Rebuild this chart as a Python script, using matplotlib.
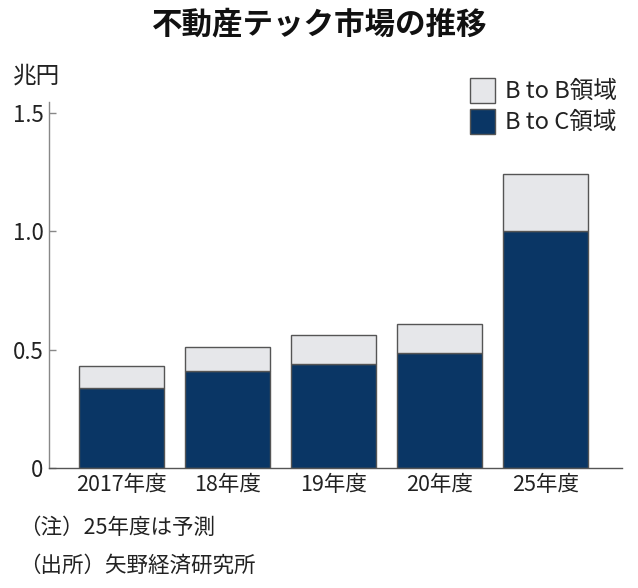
import matplotlib
matplotlib.use("Agg")
import matplotlib.pyplot as plt
from matplotlib.patches import Rectangle

plt.rcParams['font.family'] = ['Noto Sans CJK JP', 'DejaVu Sans']

categories = ["2017年度", "18年度", "19年度", "20年度", "25年度"]
btoc = [0.34, 0.41, 0.44, 0.485, 1.0]
btob = [0.09, 0.10, 0.12, 0.125, 0.24]
yticks = [0, 0.5, 1.0, 1.5]
ytick_labels = ["0", "0.5", "1.0", "1.5"]

navy = "#0a3665"
light = "#e6e7ea"
edge = "#555555"

fig = plt.figure(figsize=(6.38, 5.88), dpi=100)
ax = fig.add_axes([49/638, 1-468/588, (622-49)/638, (468-102)/588])

x = list(range(len(categories)))
ax.bar(x, btoc, width=0.8, color=navy, edgecolor=edge, linewidth=1.0, label="B to C領域", zorder=2)
ax.bar(x, btob, bottom=btoc, width=0.8, color=light, edgecolor=edge, linewidth=1.0, label="B to B領域", zorder=2)

ax.set_xlim(-0.684, 4.72)
ax.set_ylim(0, 1.546)
ax.set_yticks(yticks)
ax.set_yticklabels(ytick_labels, fontsize=16, color="#222222")
ax.set_xticks(x)
ax.set_xticklabels(categories, fontsize=15.5, color="#222222")
ax.tick_params(axis='y', direction='in', length=5, width=1, color="#888888", pad=4)
ax.tick_params(axis='x', length=0, pad=4)
for s in ['top', 'right']:
    ax.spines[s].set_visible(False)
ax.spines['left'].set_color("#888888")
ax.spines['bottom'].set_color("#555555")
ax.spines['left'].set_linewidth(1.0)
ax.spines['bottom'].set_linewidth(1.0)

# legend drawn as figure patches
for i, (lab, col) in enumerate([("B to B領域", light), ("B to C領域", navy)]):
    y0 = 1 - (103 + i*31)/588
    fig.patches.append(Rectangle((470/638, y0), 25/638, 25/588, transform=fig.transFigure,
                                 facecolor=col, edgecolor=edge, linewidth=1.0))
    fig.text(505/638, y0 + 12/588, lab, fontsize=17, va='center', ha='left', color="#222222")

fig.text(320/638, 1-24/588, "不動産テック市場の推移", fontsize=22, fontweight='bold',
         ha='center', va='center', color="#111111")
fig.text(13/638, 1-76/588, "兆円", fontsize=17, ha='left', va='center', color="#222222")
fig.text(19/638, 1-528/588, "（注）25年度は予測", fontsize=15.5, ha='left', va='center', color="#222222")
fig.text(19/638, 1-566/588, "（出所）矢野経済研究所", fontsize=15.5, ha='left', va='center', color="#222222")

fig.savefig("out.png", dpi=100)
